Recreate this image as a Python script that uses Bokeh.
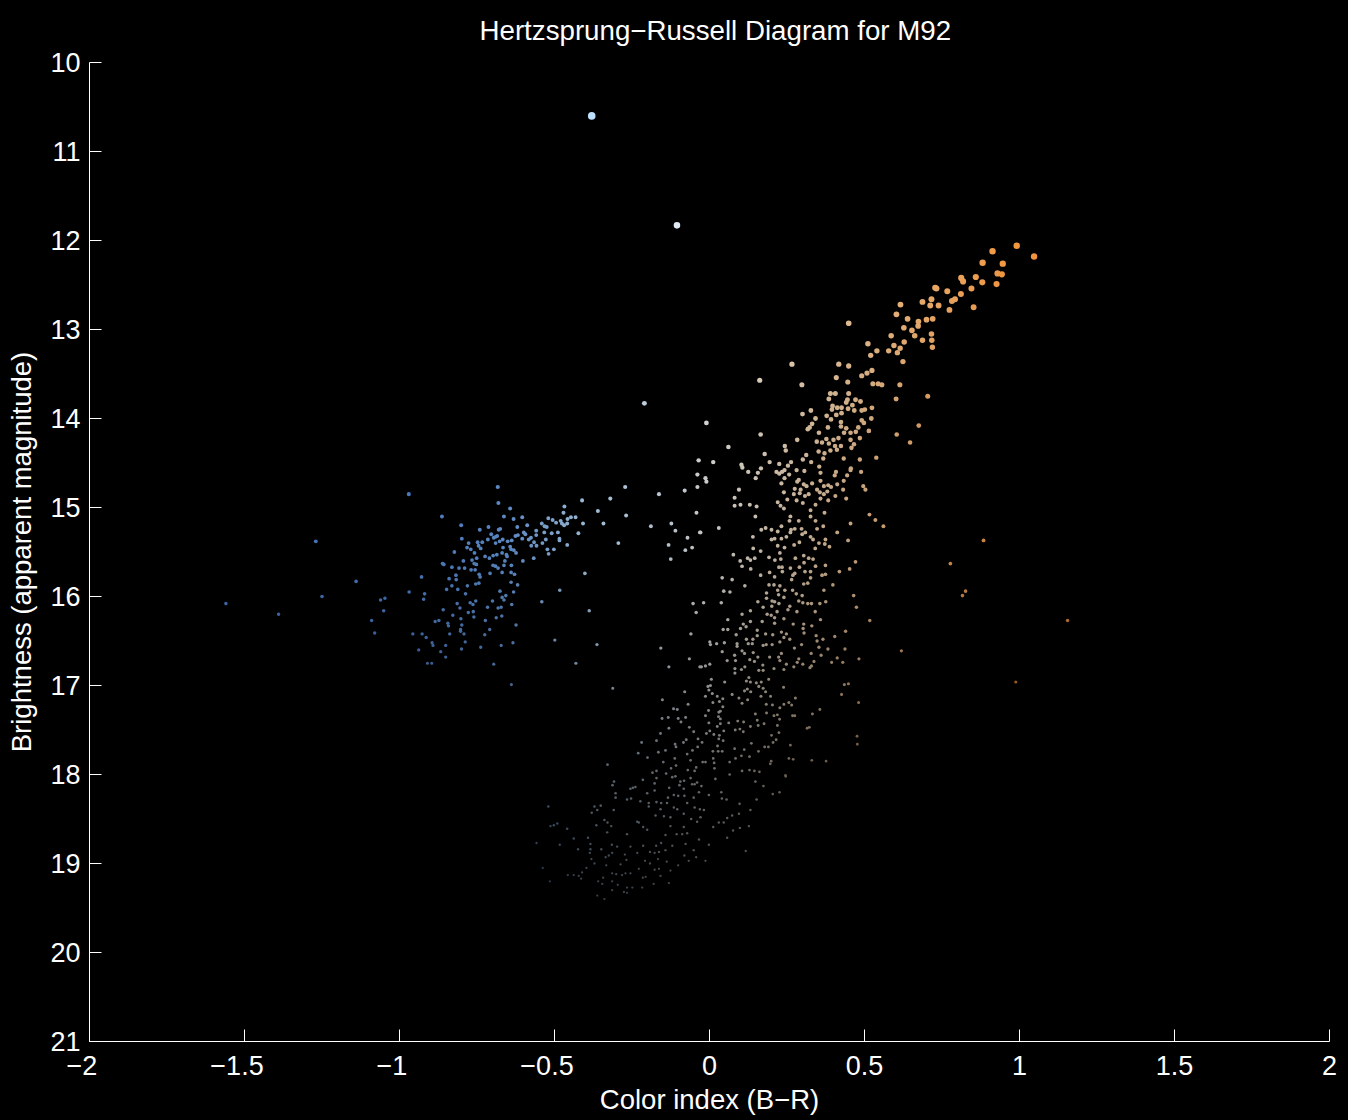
import numpy as np
from bokeh.plotting import figure
from bokeh.models import ColumnDataSource, FixedTicker
from bokeh.embed import file_html
from bokeh.resources import INLINE

TITLE = "Hertzsprung\u2212Russell Diagram for M92"
X_LABEL = "Color index (B\u2212R)"
Y_LABEL = "Brightness (apparent magnitude)"
X_TICKS = [-2, -1.5, -1, -0.5, 0, 0.5, 1, 1.5, 2]
# trailing no-break spaces keep the digits, not the minus sign, centred on the tick
X_TICK_LABELS = ["\u22122\u00a0\u00a0", "\u22121.5\u00a0\u00a0", "\u22121\u00a0\u00a0", "\u22120.5\u00a0\u00a0", "0", "0.5", "1", "1.5", "2"]
Y_TICKS = [10, 11, 12, 13, 14, 15, 16, 17, 18, 19, 20, 21]

bright_stars = [(-.38,10.6),(-.105,11.83),(-.21,13.83),(-.035,14.47),(-1.56,16.08),(-1.39,16.2),(-1.27,15.38),
 (-1.25,16.0),(-1.14,15.83),(-1.09,16.27),(-1.08,16.41),(1.155,16.27),(-.013,14.67),(.988,16.96),
 (.435,16.99),(.448,16.98),(.426,17.10),(.481,17.19)]

red_giants = [(.991,12.06),(.913,12.12),(1.047,12.18),(.881,12.25),(.946,12.26),(.929,12.37),(.943,12.38),(.812,12.42),
 (.859,12.41),(.818,12.46),(.880,12.47),(.926,12.49),(.728,12.53),(.732,12.54),(.767,12.57),(.845,12.54),(.811,12.60),
 (.616,12.72),(.687,12.69),(.716,12.66),(.792,12.66),(.782,12.68),(.712,12.73),(.739,12.73),(.774,12.78),(.852,12.75),
 (.603,12.83),(.639,12.88),(.674,12.91),(.700,12.89),(.720,12.88),(.673,12.96),(.627,12.98),(.653,13.01),(.449,12.93),
 (.662,13.07),(.586,13.07),(.716,13.05),(.717,13.12),(.628,13.14),(.687,13.12),(.511,13.16),(.595,13.18),(.615,13.21),
 (.719,13.20),(.540,13.24),(.578,13.24),(.606,13.26),(.520,13.29),(.624,13.36),(.266,13.39),(.417,13.39),(.449,13.41),
 (.524,13.46),(.508,13.49),(.491,13.52),(.409,13.54),(.162,13.57),(.446,13.59),(.298,13.62),(.527,13.61),(.544,13.61),
 (.556,13.62),(.614,13.62),(.390,13.72),(.406,13.72),(.449,13.72),(.704,13.75),(.385,13.78),(.602,13.78),(.445,13.79),
 (.441,13.82),(.471,13.79),(.487,13.81),(.461,13.85),(.397,13.86),(.395,13.90),(.412,13.88),(.426,13.88),(.447,13.89),
 (.524,13.88),(.501,13.90),(.491,13.91),(.467,13.91),(.327,13.91),(.426,13.94),(.409,13.96),(.378,13.97),(.300,13.95),
 (.392,14.01),(.342,14.00),(.424,14.04),(.491,14.02),(.522,14.00),(.498,14.05),(.331,14.06),(.323,14.10),(.424,14.09),
 (.382,14.10),(.441,14.11),(.480,14.10),(.317,14.12),(.434,14.16),(.455,14.16),(.472,14.15),(.514,14.14),(.353,14.16),
 (.675,14.08),(.604,14.18),(.647,14.27),(.416,14.22),(.400,14.24),(.377,14.23),(.346,14.26),(.363,14.27),(.385,14.28),
 (.485,14.22),(.455,14.24),(.466,14.29),(.283,14.24),(.165,14.18),(-.010,14.05),(.061,14.32),(.243,14.31),(.246,14.36),
 (.178,14.40),(.405,14.31),(.424,14.31),(.458,14.33),(.411,14.35),(.390,14.36),(.352,14.37),(.371,14.39),(.312,14.41),
 (.367,14.45),(.433,14.45),(.485,14.46),(.538,14.44),(.301,14.46),(.194,14.49),(.225,14.51),(.263,14.49),(.328,14.49),
 (.012,14.49),(.103,14.52),(.106,14.55),(.166,14.56),(.253,14.53),(.354,14.54),(.456,14.56)]

subgiants = [(.125,14.60),(.156,14.61),(.216,14.60),(.225,14.62),(.234,14.60),(.242,14.58),(.257,14.63),(.281,14.58),
 (.306,14.59),(.358,14.61),(.408,14.60),(.404,14.64),(.455,14.58),(.444,14.64),(.489,14.60),(.149,14.67),(-.010,14.71),
 (.242,14.67),(.232,14.73),(.288,14.69),(.283,14.71),(.358,14.70),(.331,14.73),(.433,14.70),(.412,14.74),(.369,14.76),
 (.304,14.74),(.313,14.76),(.496,14.76),(.503,14.80),(.383,14.75),(.392,14.77),(.095,14.80),(.275,14.79),(.294,14.80),
 (.347,14.80),(.380,14.82),(.431,14.80),(.240,14.83),(.272,14.85),(.291,14.84),(.320,14.85),(.308,14.87),(.369,14.85),
 (.356,14.83),(.406,14.87),(.441,14.90),(.081,14.89),(.251,14.91),(.281,14.92),(.358,14.90),(.383,14.92),(.220,14.94),
 (.301,14.95),(.342,14.97),(.081,14.98),(.100,14.97),(.130,14.97),(.152,14.99),(.229,14.98),(.240,15.01),(.326,15.03),
 (.371,15.06),(.261,15.10),(.148,15.10),(.516,15.08),(.535,15.14),(.326,15.10),(.342,15.15),(.258,15.15),(.288,15.15),
 (.455,15.18),(.561,15.21),(.232,15.21),(.367,15.21),(.030,15.23),(.167,15.25),(.181,15.23),(.200,15.25),(.220,15.27),
 (.275,15.24),(.263,15.25),(.297,15.24),(.347,15.24),(.412,15.28),(-.029,15.28),(.309,15.28),(.299,15.30),(.140,15.33),
 (.261,15.28),(.248,15.33),(.326,15.33),(.334,15.36),(.200,15.36),(.210,15.35),(.232,15.35),(.447,15.37),(.884,15.37),
 (.374,15.36),(.353,15.40),(.372,15.41),(.273,15.42),(.290,15.39),(.220,15.43),(.242,15.45),(.387,15.44),(.141,15.46),
 (.341,15.46),(.165,15.49),(.227,15.51),(.077,15.53),(.192,15.56),(.123,15.57),(.132,15.59),(.146,15.57),(.230,15.58),
 (.277,15.57),(.211,15.59),(.320,15.57),(.334,15.58),(.304,15.54),(.471,15.61),(.099,15.60),(.305,15.62),(.777,15.63),
 (.342,15.66),(.374,15.65),(.105,15.66),(.133,15.69),(.224,15.67),(.234,15.67),(.261,15.68),(.290,15.67),(.452,15.69),
 (.419,15.72),(.194,15.73),(.165,15.76),(.235,15.72),(.308,15.72),(.326,15.72),(.275,15.74),(.363,15.76),(.374,15.75),
 (.269,15.76),(.326,15.79),(.041,15.79),(.073,15.81),(.210,15.78),(.265,15.81),(.317,15.85),(.304,15.86),(.398,15.87),
 (.114,15.88),(.192,15.87),(.208,15.87),(.227,15.88),(.369,15.93),(.220,15.93),(.243,15.93),(.268,15.93),(.046,15.94),
 (.066,15.95),(.826,15.94),(.184,15.96),(.816,15.99),(.280,15.97),(.299,15.99),(.223,15.98),(.240,16.01),(.465,15.99),
 (.184,16.02),(.288,16.05),(.202,16.05),(.210,16.06),(.156,16.06),(.224,16.08),(-.019,16.07),(.038,16.07),(.301,16.07),
 (.317,16.08),(.329,16.08),(.356,16.08),(.375,16.06),(.474,16.12),(.259,16.11),(.253,16.15),(.173,16.12),(.201,16.11),
 (.218,16.17),(.132,16.16),(.282,16.17),(.341,16.17),(.186,16.20),(.105,16.20),(.199,16.21),(.358,16.26),(.059,16.26),
 (.210,16.24),(.517,16.27),(.240,16.25),(.132,16.28),(.170,16.28),(.210,16.30),(.270,16.31),(.109,16.31),(.304,16.31),
 (.330,16.33),(.302,16.36),(.118,16.34),(.100,16.36),(.044,16.37),(.059,16.37),(.439,16.39),(.154,16.38),(.232,16.40),
 (.181,16.42),(.204,16.43),(.086,16.43),(.248,16.42),(.154,16.44),(.305,16.41),(.344,16.44),(.404,16.45),(.240,16.46),
 (.259,16.48),(.140,16.48),(.119,16.48),(.366,16.48),(.347,16.50),(.001,16.51),(.023,16.53),(.048,16.52),(.089,16.53),
 (.125,16.53),(.138,16.53),(.227,16.51),(.173,16.55),(.297,16.54),(.183,16.54),(.202,16.54),(.353,16.57),(.003,16.54),
 (.089,16.56),(.274,16.58),(.437,16.59),(.382,16.59),(.619,16.61),(.105,16.61),(.041,16.62),(.141,16.63),(.081,16.66),
 (.328,16.64),(.232,16.64),(.360,16.66),(.113,16.64),(.156,16.68),(.194,16.68),(.412,16.69),(.482,16.70),(.223,16.68),
 (.057,16.72),(.084,16.72),(.130,16.71),(.145,16.73),(.227,16.72),(.288,16.70),(.394,16.74),(.430,16.74),(.337,16.73),
 (.283,16.74),(.248,16.76),(.301,16.76),(.172,16.77),(.329,16.78),(.272,16.79),(.001,16.76),(-.013,16.78),(-.026,16.79),
 (.114,16.79),(.103,16.82),(.082,16.81),(.208,16.81),(.240,16.82),(.324,16.80),(.082,16.86),(.159,16.83),(.173,16.83),
 (.006,16.93),(.127,16.91),(.191,16.93)]

horizontal_branch = [(-.970,14.85),(-.683,14.77),(-.681,14.95),(-.643,15.01),(-.863,15.10),(-.663,15.10),(-.632,15.13),
 (-.604,15.11),(-.801,15.20),(-.741,15.25),(-.713,15.22),(-.675,15.24),(-.680,15.25),(-.704,15.30),(-.588,15.20),(-.620,15.22),
 (-.599,15.28),(-.594,15.30),(-.559,15.26),(-.533,15.28),(-.626,15.32),(-.618,15.31),(-.520,15.12),(-.506,15.14),(-.495,15.17),
 (-.468,14.99),(-.471,15.06),(-.447,15.11),(-.432,15.11),(-.458,15.13),(-.480,15.15),(-.476,15.18),(-.469,15.20),(-.459,15.18),
 (-.541,15.18),(-.532,15.21),(-.525,15.22),(-.411,14.92),(-.320,14.90),(-.272,14.77),(-.163,14.85),(-.080,14.81),(-.039,14.63),
 (-.039,14.77),(-.360,15.04),(-.269,15.09),(-.342,15.18),(-.408,15.18),(-.423,15.29),(-.189,15.21),(-.123,15.18),(-.110,15.26),
 (-.042,15.06),(-.031,15.28),(-.509,15.29),(-.489,15.28),(-.559,15.31),(-.604,15.35),(-.576,15.34),(-.583,15.36),(-.799,15.35),
 (-.777,15.40),(-.748,15.39),(-.733,15.39),(-.715,15.36),(-.690,15.33),(-.696,15.34),(-.685,15.32),(-.677,15.38),(-.667,15.36),
 (-.651,15.38),(-.638,15.37),(-.528,15.36),(-.484,15.35),(-.484,15.37),(-.459,15.42),(-.294,15.40),(-.071,15.34),(-.132,15.42),
 (-.056,15.45),(-.078,15.48),(-.125,15.58),(-.539,15.40),(-.558,15.43),(-.566,15.39),(-.575,15.43),(-.690,15.40),(-.782,15.45),
 (-.770,15.47),(-.745,15.43),(-.738,15.46),(-.666,15.45),(-.643,15.44),(-.640,15.47),(-.631,15.48),(-.624,15.51),(-.823,15.50),
 (-.758,15.51),(-.502,15.47),(-.523,15.47),(-.519,15.52),(-.724,15.55),(-.710,15.57),(-.698,15.54),(-.686,15.53),(-.669,15.51),
 (-.655,15.53),(-.653,15.55),(-.751,15.57),(-.794,15.60),(-.766,15.59),(-.660,15.60),(-.602,15.60),(-.567,15.57),(-.861,15.63),
 (-.857,15.64),(-.759,15.63),(-.752,15.64),(-.831,15.67),(-.808,15.68),(-.790,15.68),(-.698,15.65),(-.690,15.66),(-.682,15.68),
 (-.663,15.65),(-.639,15.65),(-.769,15.70),(-.756,15.70),(-.708,15.74),(-.669,15.73),(-.640,15.73),(-.629,15.75),(-.743,15.75),
 (-.740,15.78),(-.929,15.78),(-.840,15.80),(-.817,15.81),(-.818,15.76),(-.402,15.74),(-.640,15.84),(-.744,15.85),(-.754,15.86),
 (-.781,15.88),(-.831,15.88),(-.619,15.87),(-.848,15.92),(-.812,15.92),(-.676,15.94),(-.483,15.93),(-.632,15.95),(-.969,15.95),
 (-.787,15.97),(-.919,15.97),(-.657,15.99),(-.669,16.01),(-1.047,16.02),(-.922,16.03),(-1.061,16.04),(-.663,16.04),(-.754,16.05),
 (-.700,16.05),(-.772,16.07),(-.541,16.06),(-.814,16.08),(-.763,16.09),(-.638,16.09),(-.716,16.12),(-.682,16.13),(-.672,16.12),
 (-.805,16.13),(-.859,16.15),(-1.051,16.16),(-.388,16.16),(-.053,16.08),(-.043,16.18),(-.762,16.17),(-.778,16.18),(-.828,16.21),
 (-.688,16.24),(-.670,16.22),(-.760,16.23),(-.802,16.25),(-.873,16.27),(-.885,16.28),(-.844,16.30),(-.723,16.27),(-.842,16.33),
 (-.799,16.32),(-.624,16.32),(-.709,16.37),(-.803,16.39),(-.957,16.42),(-.927,16.42),(-.838,16.42),(-.792,16.42),(-.725,16.43),
 (-.060,16.42),(-.914,16.46),(-.499,16.49),(-.803,16.37),(-.895,16.52),(-.788,16.51),(-.892,16.55),(-.851,16.55),(-.672,16.55),
 (-.634,16.52),(-.363,16.54),(-.738,16.57),(-.157,16.58),(-.938,16.60),(-.800,16.59),(-.867,16.62),(-.065,16.70),(-.851,16.68),
 (-.910,16.75),(-.896,16.75),(-.696,16.76),(-.431,16.75),(-.131,16.79),(-.031,16.79),(-.639,16.99),(-.312,17.03),(-.080,17.07),
 (-.152,17.16)]

turnoff_left = [(-.069,17.21),(-.116,17.26),(-.104,17.27),(-.153,17.37),(-.133,17.36),(-.101,17.37),(-.077,17.36),(-.092,17.41),
 (-.051,17.52),(-.065,17.47),(-.131,17.48),(-.158,17.54),(-.171,17.62),(-.219,17.64),(-.075,17.61),(-.084,17.64),(-.111,17.66),
 (-.108,17.69),(-.037,17.60),(-.024,17.64),(-.038,17.69),(-.142,17.73),(-.165,17.75),(-.230,17.76),(-.200,17.81),(-.072,17.77),
 (-.055,17.73),(-.112,17.82),(-.149,17.86),(-.061,17.84),(-.329,17.89),(-.022,17.86),(-.013,17.86),(-.108,17.90),(-.124,17.93),
 (-.043,17.92),(-.048,17.96),(-.070,17.95),(-.171,17.96),(-.184,17.98),(-.140,17.99),(-.110,18.02),(-.120,18.03),(-.061,18.04),
 (-.215,18.06),(-.171,18.04),(-.082,18.07),(-.094,18.08),(-.177,18.10),(-.308,18.08),(-.313,18.12),(-.040,18.09),(-.056,18.11),
 (-.048,18.11),(-.026,18.13),(-.097,18.12),(-.083,18.16),(-.130,18.15),(-.255,18.16),(-.239,18.14),(-.247,18.15),(-.177,18.18),
 (-.303,18.21),(-.303,18.26),(-.034,18.20),(-.115,18.23),(-.101,18.24),(-.253,18.27),(-.266,18.28),(-.002,18.23),(-.201,18.21),
 (-.051,18.26),(-.081,18.24),(-.072,18.32),(-.134,18.26),(-.196,18.32),(-.171,18.31),(-.137,18.32),(-.156,18.32),(-.115,18.37),
 (-.104,18.39),(-.158,18.39),(-.520,18.36),(-.351,18.35),(-.371,18.36),(-.362,18.40),(-.380,18.43),(-.309,18.40),(-.196,18.36),
 (-.223,18.30),(-.048,18.37),(-.031,18.39),(-.018,18.40),(-.083,18.44),(-.174,18.46),(-.147,18.47),(-.126,18.48),(-.059,18.50),
 (-.029,18.48),(-.228,18.54),(-.339,18.51),(-.329,18.54),(-.317,18.58),(-.233,18.53),(-.365,18.57),(-.491,18.55),(-.502,18.57),
 (-.513,18.58),(-.459,18.61),(-.438,18.72),(-.201,18.62),(-.214,18.59),(-.126,18.58),(-.040,18.53),(-.083,18.59),(-.072,18.66),
 (-.088,18.67),(-.106,18.67),(-.142,18.68),(-.266,18.67),(-.330,18.65),(-.392,18.71),(-.384,18.78),(-.483,18.79),(-.558,18.77),
 (-.315,18.79),(-.298,18.81),(-.255,18.81),(-.214,18.80),(-.172,18.80),(-.156,18.77),(-.120,18.80),(-.077,18.78),(-.034,18.73),
 (-.002,18.79),(-.051,18.85),(-.142,18.85),(-.163,18.87),(-.192,18.87),(-.177,18.88),(-.233,18.88),(-.273,18.90),(-.314,18.88),
 (-.349,18.84),(-.384,18.84),(-.386,18.88),(-.424,18.84),(-.325,18.91),(-.335,18.93),(-.381,18.95),(-.208,18.97),(-.166,18.95),
 (-.138,18.98),(-.081,18.91),(-.067,18.97),(-.043,18.93),(-.013,18.97),(-.101,19.02),(-.192,19.00),(-.268,18.96),(-.287,19.01),
 (-.371,19.00),(-.333,19.02),(-.397,19.05),(-.538,19.05),(-.411,19.10),(-.457,19.13),(-.438,19.13),(-.422,19.14),(-.414,19.17),
 (-.314,19.11),(-.301,19.12),(-.282,19.13),(-.271,19.11),(-.255,19.11),(-.228,19.06),(-.206,19.15),(-.215,19.16),(-.158,19.14),
 (-.126,19.08),(-.177,19.07),(-.163,19.06),(-.343,19.16),(-.359,19.20),(-.314,19.20),(-.346,19.23),(-.515,19.20),(-.296,19.24),
 (-.266,19.27),(-.249,19.27),(-.217,19.27),(-.180,19.23),(-.131,19.22),(-.314,19.30),(-.276,19.32),(-.362,19.36),(-.339,19.40),
 (-.266,19.33)]

turnoff_right = [(-.005,17.01),(.003,17.00),(.049,16.96),(.119,16.95),(.132,16.96),(.151,16.97),(.167,16.96),(.122,17.04),
 (.113,17.06),(.159,17.01),(.173,17.03),(-.002,17.05),(.133,17.07),(.181,17.07),(.239,17.02),(-.013,17.12),(.009,17.09),
 (.025,17.12),(.043,17.15),(.073,17.10),(.095,17.14),(.123,17.16),(.166,17.12),(.197,17.12),(.011,17.19),(.032,17.18),
 (.105,17.20),(.277,17.14),(.256,17.19),(.240,17.21),(.265,17.22),(.183,17.21),(.203,17.22),(.043,17.24),(-.003,17.28),
 (.035,17.29),(.030,17.30),(.227,17.25),(.356,17.27),(.268,17.34),(.275,17.34),(.332,17.32),(.148,17.32),(.184,17.31),
 (.208,17.34),(.219,17.33),(-.013,17.34),(.029,17.35),(.035,17.375),(.154,17.39),(.226,17.38),(-.002,17.42),(.035,17.43),
 (.062,17.42),(.091,17.40),(.110,17.41),(.176,17.43),(.157,17.45),(.132,17.46),(.219,17.45),(.025,17.46),(.083,17.50),
 (.098,17.49),(.046,17.51),(.109,17.52),(.224,17.53),(.001,17.51),(-.010,17.54),(.014,17.55),(.032,17.56),(.044,17.62),
 (.030,17.60),(.200,17.56),(.215,17.61),(.135,17.65),(.205,17.64),(.261,17.67),(.178,17.69),(.190,17.69),(.026,17.68),
 (.081,17.71),(.112,17.72),(.158,17.74),(.011,17.74),(.028,17.74),(.041,17.74),(.103,17.79),(.129,17.80),(.084,17.82),
 (.065,17.86),(.012,17.82),(.015,17.87),(.016,17.93),(.256,17.82),(.270,17.83),(.330,17.84),(.376,17.85),(.199,17.85),
 (.196,17.88),(.105,17.96),(.129,17.95),(.145,17.96),(.161,17.97),(.065,18.00),(.245,18.01),(.246,18.02),(.019,18.05),
 (.148,18.08),(.174,18.13),(.204,18.22),(.226,18.20),(.152,18.28),(.038,18.20),(.040,18.27),(.055,18.28),(.097,18.33),
 (.132,18.40),(.095,18.44),(.073,18.46),(.057,18.49),(.030,18.54),(.046,18.54),(.127,18.58),(.098,18.60),(.076,18.63),
 (.012,18.59),(.057,18.71),(.117,18.86),(.476,17.57),(.477,17.66),(.322,17.47),(.315,17.48)]

stars = np.array(bright_stars + red_giants + subgiants + horizontal_branch + turnoff_left + turnoff_right)
cx, mag = stars[:, 0], stars[:, 1]

# colour: hue from the colour index, dimmed with the magnitude
hue_x = [-1.0, -0.65, -0.38, -0.1, 0.0, 0.4, 1.0]
hue_r = [85, 110, 190, 225, 240, 235, 245]
hue_g = [140, 165, 225, 235, 240, 200, 150]
hue_b = [225, 235, 255, 245, 235, 160, 60]
dim_m = [10, 12, 14, 15.4, 17, 18, 19, 19.5]
dim_v = [1, 1, .88, .82, .60, .44, .32, .27]
dot_m = [10.6, 11.8, 12.2, 13, 14, 15, 16, 17, 18, 19]
dot_d = [7.6, 6.6, 6.4, 5.6, 4.8, 4.0, 3.6, 3.1, 2.7, 2.3]

v = np.interp(mag, dim_m, dim_v)
r = np.interp(cx, hue_x, hue_r) * v
g = np.interp(cx, hue_x, hue_g) * v
b = np.interp(cx, hue_x, hue_b) * v
colors = ["#%02x%02x%02x" % (int(i), int(j), int(k)) for i, j, k in zip(r, g, b)]

source = ColumnDataSource(dict(x=cx, y=mag, color=colors, size=np.interp(mag, dot_m, dot_d)))

p = figure(width=1348, height=1120, x_range=(-2, 2), y_range=(21, 10),
           output_backend="svg", toolbar_location=None,
           background_fill_color="black", border_fill_color="black",
           min_border_left=89, min_border_right=19, min_border_top=62, min_border_bottom=79)
p.outline_line_color = None
p.grid.visible = False
p.scatter("x", "y", source=source, size="size", marker="circle", fill_color="color", line_color=None)

p.title.text = TITLE
p.title.text_color = "white"
p.title.text_font = "Liberation Sans"
p.title.text_font_size = "27.7px"
p.title.text_font_style = "normal"
p.title.align = "left"
p.title.offset = 390
p.title.standoff = 29
p.title.vertical_align = "top"

for ax in (p.xaxis[0], p.yaxis[0]):
    ax.axis_line_color = "white"
    ax.axis_line_width = 1
    ax.major_tick_line_color = "white"
    ax.major_tick_in = 12
    ax.major_tick_out = 0
    ax.minor_tick_line_color = None
    ax.major_label_text_color = "white"
    ax.major_label_text_font = "Liberation Sans"
    ax.major_label_text_font_size = "27px"
    ax.axis_label_text_color = "white"
    ax.axis_label_text_font = "Liberation Sans"
    ax.axis_label_text_font_size = "27.5px"
    ax.axis_label_text_font_style = "normal"

p.xaxis[0].ticker = FixedTicker(ticks=X_TICKS)
p.xaxis[0].major_label_overrides = dict(zip(X_TICKS, X_TICK_LABELS))
p.xaxis[0].axis_label = X_LABEL
p.xaxis[0].major_label_standoff = 9
p.xaxis[0].axis_label_standoff = 0
p.yaxis[0].ticker = FixedTicker(ticks=Y_TICKS)
p.yaxis[0].axis_label = Y_LABEL
p.yaxis[0].major_label_standoff = 9
p.yaxis[0].axis_label_standoff = 10

html = file_html(p, INLINE)
html = html.replace("<head>", "<head><style>html,body{background:#000;}</style>", 1)
open("out.html", "w").write(html)
